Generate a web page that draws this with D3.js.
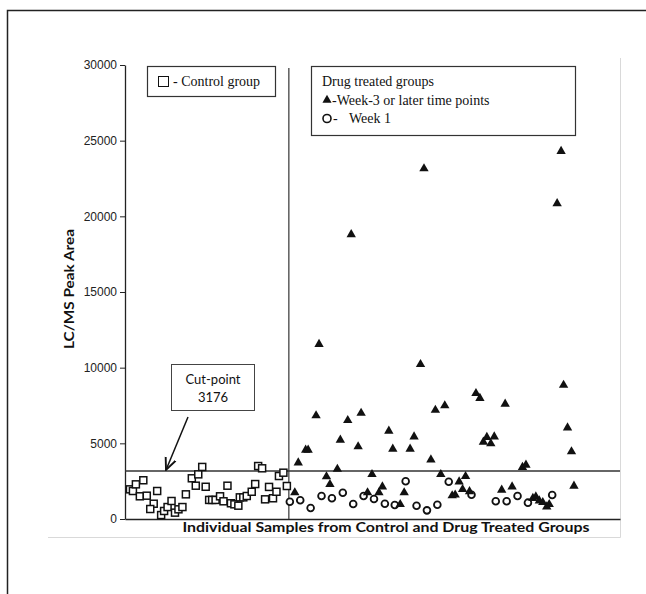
<!DOCTYPE html>
<html>
<head>
<meta charset="utf-8">
<script src="https://cdnjs.cloudflare.com/ajax/libs/d3/7.8.5/d3.min.js"></script>
<style>
  body { margin: 0; background: #fff; }
  svg { display: block; }
  .tick text { font-family: 'Liberation Sans', Arial, sans-serif; font-size: 12px; fill: #222; }
  .legend text { font-family: 'Liberation Serif', 'Times New Roman', serif; font-size: 14px; fill: #111; }
</style>
</head>
<body>
<div id="chart"></div>
<script>

// sample position along the (unlabelled) x axis, peak area on y
let controlX = [1.0, 1.6, 2.2, 3.7, 3.0, 4.4, 6.5, 5.8, 5.1, 7.3, 7.9, 8.6, 9.4, 10.1, 10.8,
  11.6, 12.3, 13.5, 14.3, 14.8, 15.6, 16.3, 17.0, 17.6, 18.3, 19.2, 19.9, 20.7, 21.4, 22.1,
  22.9, 23.2, 23.9, 24.6, 25.6, 26.3, 26.9, 27.7, 28.3, 29.1, 29.9, 30.6, 31.1, 32.0, 32.7];
let controlY = [1960, 1850, 2290, 2560, 1500, 1540, 1850, 1010, 660, 260, 530, 790, 1190, 420, 640,
  790, 1630, 2690, 2200, 2950, 3440, 2130, 1260, 1260, 1260, 1500, 1170, 2200, 1040, 970,
  880, 1430, 1430, 1520, 1800, 2310, 3500, 3350, 1300, 2120, 1370, 1800, 2840, 3060, 2180];

let week1X = [33.3, 35.4, 37.5, 39.7, 41.8, 44.0, 46.1, 48.2, 50.3, 52.5, 54.5, 56.7, 58.9, 61.0,
  63.1, 65.4, 70.0, 74.9, 77.1, 79.3, 81.4, 86.3];
let week1Y = [1140, 1240, 730, 1520, 1370, 1740, 990, 1520, 1320, 1010, 920, 2490, 880, 570,
  940, 2460, 1600, 1170, 1170, 1520, 1080, 1590];

let week3X = [35.0, 34.3, 36.5, 37.0, 38.6, 40.7, 41.4, 42.9, 43.5, 45.0, 47.1, 47.7, 49.0, 49.9,
  51.3, 52.0, 53.3, 54.1, 55.6, 56.4, 57.6, 58.4, 61.8, 62.7, 63.8, 64.6, 66.1, 66.7,
  39.2, 59.7, 45.7, 60.4, 87.3, 88.1, 88.6, 89.4, 90.2, 90.7,
  70.9, 71.7, 76.8, 72.4, 73.1, 73.9, 74.6, 80.3, 81.0, 68.8, 67.5, 68.2, 69.6,
  76.1, 78.2, 82.4, 83.0, 83.7, 84.4, 85.2, 85.7];
let week3Y = [3720, 1740, 4560, 4560, 6830, 2800, 2290, 3300, 5220, 6520, 4780, 7000, 1740, 2950,
  1740, 2130, 5820, 4630, 970, 1740, 4630, 5440, 3920, 7200, 2950, 7490, 1550, 1600,
  11550, 10220, 18800, 23150, 20850, 24300, 8850, 6030, 4450, 2180,
  8300, 7980, 7600, 5090, 5400, 4980, 5440, 3420, 3570, 2820, 2460, 1960, 1820,
  1920, 2130, 1370, 1470, 1210, 1100, 810, 970];

let yTicks = [0, 5000, 10000, 15000, 20000, 25000, 30000];
let cutPoint = 3176;
let dividerX = 33.1;

let svg = d3.select("#chart").append("svg")
  .attr("width", 646)
  .attr("height", 594);

let x = d3.scaleLinear().domain([0, 100]).range([125, 620]);
let y = d3.scaleLinear().domain([0, 30000]).range([519, 65]);

// outer page frame
svg.append("path")
  .attr("d", "M7.5,594 V10.5 H646")
  .attr("fill", "none")
  .attr("stroke", "#222")
  .attr("stroke-width", 1.5);

// light chart-area border
svg.append("path")
  .attr("d", "M48,537.5 H620.5 V58")
  .attr("fill", "none")
  .attr("stroke", "#d9d9d9")
  .attr("stroke-width", 1);

// y axis
let yAxis = svg.append("g")
  .attr("transform", "translate(125,0)")
  .call(d3.axisLeft(y).tickValues(yTicks).tickSize(5).tickSizeOuter(0).tickPadding(3)
    .tickFormat(d3.format("d")));
yAxis.select(".domain").attr("stroke", "#222").attr("stroke-width", 1.3);
yAxis.selectAll(".tick line").attr("stroke", "#222");

// x axis (no ticks)
let xAxis = svg.append("g")
  .attr("transform", "translate(0,519)")
  .call(d3.axisBottom(x).tickValues([]).tickSizeOuter(0));
xAxis.select(".domain").attr("stroke", "#222").attr("stroke-width", 1.3);

// divider between control and drug treated groups
svg.append("line")
  .attr("x1", x(dividerX)).attr("x2", x(dividerX))
  .attr("y1", 68).attr("y2", y(0))
  .attr("stroke", "#444")
  .attr("stroke-width", 1.3);

// cut-point line
svg.append("line")
  .attr("x1", x(0)).attr("x2", x(100))
  .attr("y1", y(cutPoint)).attr("y2", y(cutPoint))
  .attr("stroke", "#333")
  .attr("stroke-width", 1.6);

// axis titles
svg.append("text")
  .attr("x", 386).attr("y", 532)
  .attr("text-anchor", "middle")
  .attr("font-family", "Lato, 'Liberation Sans', sans-serif")
  .attr("font-weight", "bold")
  .attr("font-size", 14)
  .attr("fill", "#111")
  .attr("textLength", 407)
  .attr("lengthAdjust", "spacingAndGlyphs")
  .text("Individual Samples from Control and Drug Treated Groups");

svg.append("text")
  .attr("transform", "translate(74,289) rotate(-90)")
  .attr("text-anchor", "middle")
  .attr("font-family", "Lato, 'Liberation Sans', sans-serif")
  .attr("font-weight", "bold")
  .attr("font-size", 13)
  .attr("fill", "#111")
  .attr("textLength", 120)
  .attr("lengthAdjust", "spacingAndGlyphs")
  .text("LC/MS Peak Area");

// markers
let controlData = controlX.map((d, i) => [d, controlY[i]]);
let week1Data = week1X.map((d, i) => [d, week1Y[i]]);
let week3Data = week3X.map((d, i) => [d, week3Y[i]]);

svg.append("g").selectAll("path")
  .data(week1Data).join("path")
  .attr("transform", d => "translate(" + x(d[0]) + "," + y(d[1]) + ")")
  .attr("d", d3.symbol(d3.symbolCircle, 36))
  .attr("fill", "#fff")
  .attr("stroke", "#111")
  .attr("stroke-width", 1.8);

svg.append("g").selectAll("path")
  .data(week3Data).join("path")
  .attr("transform", d => "translate(" + x(d[0]) + "," + y(d[1]) + ")")
  .attr("d", d3.symbol(d3.symbolTriangle, 38))
  .attr("fill", "#111");

svg.append("g").selectAll("rect")
  .data(controlData).join("rect")
  .attr("x", d => x(d[0]) - 3.5)
  .attr("y", d => y(d[1]) - 3.5)
  .attr("width", 7)
  .attr("height", 7)
  .attr("fill", "#fff")
  .attr("stroke", "#111")
  .attr("stroke-width", 1.5);

// cut-point annotation
svg.append("rect")
  .attr("x", 171.5).attr("y", 364.5)
  .attr("width", 83).attr("height", 46)
  .attr("fill", "#fff")
  .attr("stroke", "#444")
  .attr("stroke-width", 1);

svg.append("text")
  .attr("x", 213).attr("y", 384)
  .attr("text-anchor", "middle")
  .attr("font-family", "Lato, 'Liberation Sans', sans-serif")
  .attr("font-size", 13)
  .attr("fill", "#111")
  .text("Cut-point");

svg.append("text")
  .attr("x", 213).attr("y", 402)
  .attr("text-anchor", "middle")
  .attr("font-family", "Lato, 'Liberation Sans', sans-serif")
  .attr("font-size", 13)
  .attr("fill", "#111")
  .text(cutPoint);

svg.append("defs").append("marker")
  .attr("id", "arrow")
  .attr("viewBox", "0 0 10 10")
  .attr("refX", 9).attr("refY", 5)
  .attr("markerWidth", 9).attr("markerHeight", 9)
  .attr("orient", "auto")
  .append("path")
  .attr("d", "M0,1 L9,5 L0,9")
  .attr("fill", "none")
  .attr("stroke", "#111")
  .attr("stroke-width", 1.4);

svg.append("line")
  .attr("x1", 188).attr("y1", 417)
  .attr("x2", 166).attr("y2", y(cutPoint) - 1)
  .attr("stroke", "#111")
  .attr("stroke-width", 1.5)
  .attr("marker-end", "url(#arrow)");

// legends
let leg1 = svg.append("g").attr("class", "legend");
leg1.append("rect")
  .attr("x", 147.5).attr("y", 66.5)
  .attr("width", 128).attr("height", 30)
  .attr("fill", "#fff").attr("stroke", "#333").attr("stroke-width", 1.2);
leg1.append("rect")
  .attr("x", 158.5).attr("y", 76.5)
  .attr("width", 10).attr("height", 10)
  .attr("fill", "none").attr("stroke", "#111").attr("stroke-width", 1);
leg1.append("text").attr("x", 173).attr("y", 86).text("- Control group");

let leg2 = svg.append("g").attr("class", "legend");
leg2.append("rect")
  .attr("x", 311.5).attr("y", 66.5)
  .attr("width", 264).attr("height", 69)
  .attr("fill", "#fff").attr("stroke", "#333").attr("stroke-width", 1.2);
leg2.append("text").attr("x", 322).attr("y", 86).text("Drug treated groups");
leg2.append("path")
  .attr("transform", "translate(327,100)")
  .attr("d", d3.symbol(d3.symbolTriangle, 36))
  .attr("fill", "#111");
leg2.append("text").attr("x", 332).attr("y", 105).text("-Week-3 or later time points");
leg2.append("circle")
  .attr("cx", 327).attr("cy", 118.5).attr("r", 4)
  .attr("fill", "none").attr("stroke", "#111").attr("stroke-width", 1.6);
leg2.append("text").attr("x", 333).attr("y", 123).text("-");
leg2.append("text").attr("x", 349).attr("y", 123).text("Week 1");

</script>
</body>
</html>
